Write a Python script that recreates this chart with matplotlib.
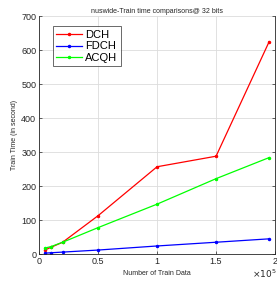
import matplotlib
matplotlib.use("Agg")
import matplotlib.pyplot as plt

train_sizes = [5000, 10000, 20000, 50000, 100000, 150000, 195000]
dch = [12, 20, 35, 113, 257, 288, 625]
fdch = [3, 4, 6, 12, 24, 35, 45]
acqh = [18, 22, 35, 78, 147, 222, 284]

plt.rcParams['font.family'] = ['Liberation Sans', 'DejaVu Sans']
fig = plt.figure(figsize=(2.77, 2.83), dpi=100)
ax = fig.add_axes([0.141, 0.102, 0.852, 0.841])

ax.plot(train_sizes, dch, color='#ff0000', marker='.', markersize=3, lw=0.9, label='DCH')
ax.plot(train_sizes, fdch, color='#0000ff', marker='.', markersize=3, lw=0.9, label='FDCH')
ax.plot(train_sizes, acqh, color='#00ff00', marker='.', markersize=3, lw=0.9, label='ACQH')

ax.set_xlim(0, 200000)
ax.set_ylim(0, 700)
ax.set_xticks([0, 50000, 100000, 150000, 200000])
ax.set_xticklabels(['0', '0.5', '1', '1.5', '2'])
ax.set_yticks(range(0, 701, 100))
ax.grid(True, color='#dcdcdc', lw=0.6)
ax.set_axisbelow(True)
ax.tick_params(labelsize=6.5, colors='#262626', length=2, width=0.5, direction='in', right=True, top=False, pad=2)
for s in ['left', 'bottom', 'right']:
    ax.spines[s].set_color('#262626')
    ax.spines[s].set_linewidth(0.6)
ax.spines['top'].set_visible(False)
ax.set_xlabel('Number of Train Data', fontsize=5, color='#262626', labelpad=3)
ax.set_ylabel('Train Time (in second)', fontsize=5, color='#262626', labelpad=2)
ax.set_title('nuswide-Train time comparisons@ 32 bits', fontsize=5, color='#262626', pad=2)
ax.text(1.005, -0.055, r'$\times10^5$', transform=ax.transAxes, fontsize=6.5, color='#262626', ha='right', va='top')

leg = ax.legend(loc='upper left', fontsize=8, frameon=True, fancybox=False, handlelength=2.3,
                borderpad=0.3, labelspacing=0.15, handletextpad=0.3, bbox_to_anchor=(0.035, 0.98))
leg.get_frame().set_edgecolor('#262626')
leg.get_frame().set_linewidth(0.6)

fig.savefig('out.png', dpi=100)
